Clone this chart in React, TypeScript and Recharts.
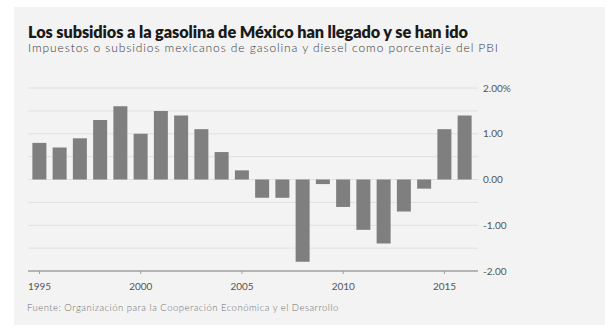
import React from "react";
import { BarChart, Bar, XAxis, YAxis, CartesianGrid } from "recharts";

const years = [1995, 1996, 1997, 1998, 1999, 2000, 2001, 2002, 2003, 2004, 2005, 2006, 2007, 2008, 2009, 2010, 2011, 2012, 2013, 2014, 2015, 2016];
const values = [0.8, 0.7, 0.9, 1.3, 1.6, 1.0, 1.5, 1.4, 1.1, 0.6, 0.2, -0.4, -0.4, -1.8, -0.1, -0.6, -1.1, -1.4, -0.7, -0.2, 1.1, 1.4];
const xTicks = [1995, 2000, 2005, 2010, 2015];
const yTicks = [-2, -1, 0, 1, 2];
const gridValues = [-1.5, -1, -0.5, 0, 0.5, 1, 1.5, 2];
const yLabels: Record<string, string> = { "2": "2.00%", "1": "1.00", "0": "0.00", "-1": "-1.00", "-2": "-2.00" };

const data = years.map((y, i) => ({ year: y, value: values[i] }));

const font = "Lato, 'Noto Sans', sans-serif";

export default function App() {
  return (
    <div style={{ position: "absolute", left: 0, top: 0, width: 610, height: 331, background: "#ffffff", overflow: "hidden" }}>
      <div style={{ position: "absolute", left: 14, top: 7, width: 591, height: 318, background: "#f3f3f3" }} />
      <div style={{ position: "absolute", left: 28, top: 22, fontFamily: font, fontWeight: 800, fontSize: 16.3, color: "#1a1a1a", whiteSpace: "nowrap", letterSpacing: -0.1 }}>
        Los subsidios a la gasolina de México han llegado y se han ido
      </div>
      <div style={{ position: "absolute", left: 28, top: 40, fontFamily: font, fontWeight: 300, fontSize: 12, color: "#3a3a3a", whiteSpace: "nowrap", letterSpacing: 0.9 }}>
        Impuestos o subsidios mexicanos de gasolina y diesel como porcentaje del PBI
      </div>
      <div style={{ position: "absolute", left: 27, top: 302, fontFamily: font, fontWeight: 300, fontSize: 9.5, color: "#707070", whiteSpace: "nowrap", letterSpacing: 0.5 }}>
        Fuente: Organización para la Cooperación Económica y el Desarrollo
      </div>
      <div style={{ position: "absolute", left: 0, top: 0 }}>
        <BarChart width={610} height={331} data={data} margin={{ top: 88, right: 82, bottom: 30, left: 28 }}>
          <CartesianGrid vertical={false} horizontalValues={gridValues} stroke="#e0e0e0" />
          <XAxis
            dataKey="year"
            type="number"
            domain={[1994.432, 2016.654]}
            ticks={xTicks}
            interval={0}
            height={30}
            axisLine={{ stroke: "#a0a0a0", strokeWidth: 1.5 }}
            tickLine={{ stroke: "#a0a0a0" }}
            tickSize={3}
            tick={{ fill: "#555", fontSize: 10, fontFamily: font, dy: 7 }}
            allowDataOverflow
          />
          <YAxis
            orientation="right"
            domain={[-2, 2]}
            ticks={yTicks}
            width={50}
            axisLine={false}
            tickLine={false}
            tickSize={5}
            tickMargin={0}
            tickFormatter={(v: number) => yLabels[String(v)]}
            tick={{ fill: "#555", fontSize: 10, fontFamily: font, textAnchor: "start" }}
          />
          <Bar dataKey="value" fill="#7f7f7f" barSize={14} isAnimationActive={false} />
        </BarChart>
      </div>
    </div>
  );
}
